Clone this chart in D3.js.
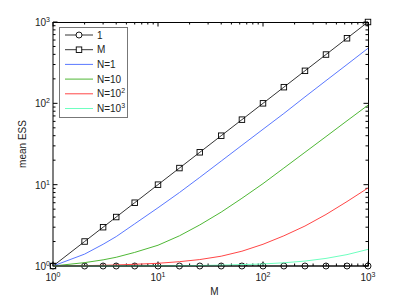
<!DOCTYPE html>
<html>
<head>
<meta charset="utf-8">
<script src="https://cdn.jsdelivr.net/npm/d3@7"></script>
<style>
  body { margin: 0; background: #fff; }
  text { font-family: "Liberation Sans", Arial, sans-serif; fill: #222; }
</style>
</head>
<body>
<div class="chart"></div>
<script>
// data
var mValues = [1, 2, 3, 4, 6, 10, 16, 25, 40, 63, 100, 158, 251, 398, 631, 1000];
var essN1 = [1, 1.4, 1.85, 2.3, 3.3, 5.2, 8, 12.3, 19.5, 30.5, 48, 75, 120, 190, 300, 475];
var essN10 = [1, 1.1, 1.19, 1.28, 1.47, 1.8, 2.35, 3.2, 4.6, 6.8, 10.3, 16, 25, 39, 61, 95];
var essN100 = [1, 1.01, 1.02, 1.03, 1.05, 1.08, 1.13, 1.2, 1.32, 1.52, 1.85, 2.35, 3.1, 4.3, 6.2, 9.1];
var essN1000 = [1, 1.001, 1.002, 1.003, 1.005, 1.008, 1.01, 1.015, 1.025, 1.04, 1.06, 1.095, 1.15, 1.24, 1.38, 1.6];
var majorTicks = [1, 10, 100, 1000];
var tickExponents = ["0", "1", "2", "3"];

var series = [
  { name: "1", sup: null, values: mValues.map(() => 1), color: "#000", marker: "circle" },
  { name: "M", sup: null, values: mValues, color: "#000", marker: "square" },
  { name: "N=1", sup: null, values: essN1, color: "#5a78ff", marker: null },
  { name: "N=10", sup: null, values: essN10, color: "#4fb836", marker: null },
  { name: "N=10", sup: "2", values: essN100, color: "#ff4646", marker: null },
  { name: "N=10", sup: "3", values: essN1000, color: "#6effc0", marker: null }
];

// Set Up Margins
var svgWidth = 407;
var svgHeight = 299;
var margin = { top: 22, right: 39, bottom: 33, left: 53 };
var width = svgWidth - margin.left - margin.right;
var height = svgHeight - margin.top - margin.bottom;

var svg = d3.select(".chart")
  .append("svg")
  .attr("width", svgWidth)
  .attr("height", svgHeight);

var chartGroup = svg.append("g")
  .attr("transform", `translate(${margin.left}, ${margin.top})`);

var xScale = d3.scaleLog().domain([1, 1000]).range([0, width]);
var yScale = d3.scaleLog().domain([1, 1000]).range([height, 0]);

// minor ticks 2..9 in each decade
var minorTicks = [];
[1, 10, 100].forEach(function(d) {
  for (var k = 2; k <= 9; k++) minorTicks.push(d * k);
});

// inward ticks on all four sides
function tickLines(g, ticks, len, horizontal) {
  ticks.forEach(function(t) {
    if (horizontal) {
      var x = xScale(t);
      g.append("line").attr("x1", x).attr("x2", x).attr("y1", height).attr("y2", height - len);
      g.append("line").attr("x1", x).attr("x2", x).attr("y1", 0).attr("y2", len);
    } else {
      var y = yScale(t);
      g.append("line").attr("y1", y).attr("y2", y).attr("x1", 0).attr("x2", len);
      g.append("line").attr("y1", y).attr("y2", y).attr("x1", width).attr("x2", width - len);
    }
  });
}
var tickGroup = chartGroup.append("g").attr("stroke", "#000").attr("stroke-width", 1);
tickLines(tickGroup, majorTicks, 4.5, true);
tickLines(tickGroup, majorTicks, 4.5, false);
tickLines(tickGroup, minorTicks, 2.5, true);
tickLines(tickGroup, minorTicks, 2.5, false);

// lines
var line = d3.line()
  .x((d, i) => xScale(mValues[i]))
  .y(d => yScale(d));

series.forEach(function(s) {
  chartGroup.append("path")
    .datum(s.values)
    .attr("d", line)
    .attr("fill", "none")
    .attr("stroke", s.color)
    .attr("stroke-width", s.marker ? 0.8 : 1);

  if (s.marker === "circle") {
    chartGroup.selectAll(null)
      .data(s.values)
      .enter()
      .append("circle")
      .attr("cx", (d, i) => xScale(mValues[i]))
      .attr("cy", d => yScale(d))
      .attr("r", 3)
      .attr("fill", "none")
      .attr("stroke", "#000")
      .attr("stroke-width", 0.9);
  }
  if (s.marker === "square") {
    chartGroup.selectAll(null)
      .data(s.values)
      .enter()
      .append("rect")
      .attr("x", (d, i) => xScale(mValues[i]) - 2.75)
      .attr("y", d => yScale(d) - 2.75)
      .attr("width", 5.5)
      .attr("height", 5.5)
      .attr("fill", "none")
      .attr("stroke", "#000")
      .attr("stroke-width", 0.9);
  }
});

// frame
chartGroup.append("rect")
  .attr("x", 0)
  .attr("y", 0.5)
  .attr("width", width + 0.5)
  .attr("height", height - 0.5)
  .attr("fill", "none")
  .attr("stroke", "#000")
  .attr("stroke-width", 1);

// tick labels with superscripts
majorTicks.forEach(function(t, i) {
  var xl = chartGroup.append("text")
    .attr("x", xScale(t))
    .attr("y", height + 15)
    .attr("text-anchor", "middle")
    .attr("font-size", "10px");
  xl.append("tspan").text("10");
  xl.append("tspan").attr("dy", -4).attr("font-size", "7px").text(tickExponents[i]);

  var yl = chartGroup.append("text")
    .attr("x", -3)
    .attr("y", yScale(t) + 4)
    .attr("text-anchor", "end")
    .attr("font-size", "10px");
  yl.append("tspan").text("10");
  yl.append("tspan").attr("dy", -4).attr("font-size", "7px").text(tickExponents[i]);
});

// axis titles
chartGroup.append("text")
  .attr("x", width / 2 + 4)
  .attr("y", height + 29)
  .attr("text-anchor", "middle")
  .attr("font-size", "10px")
  .text("M");

chartGroup.append("text")
  .attr("transform", "rotate(-90)")
  .attr("x", -height / 2)
  .attr("y", -27)
  .attr("text-anchor", "middle")
  .attr("font-size", "10px")
  .text("mean ESS");

// legend
var legend = chartGroup.append("g")
  .attr("transform", "translate(6, 5)");

legend.append("rect")
  .attr("x", 0.5)
  .attr("y", 0.5)
  .attr("width", 68)
  .attr("height", 90)
  .attr("fill", "#fff")
  .attr("stroke", "#777")
  .attr("stroke-width", 1);

series.forEach(function(s, i) {
  var y = 8 + i * 14.7;
  legend.append("line")
    .attr("x1", 6).attr("x2", 34)
    .attr("y1", y).attr("y2", y)
    .attr("stroke", s.color)
    .attr("stroke-width", s.marker ? 0.8 : 1);
  if (s.marker === "circle") {
    legend.append("circle").attr("cx", 20).attr("cy", y).attr("r", 3)
      .attr("fill", "#fff").attr("stroke", "#000").attr("stroke-width", 0.9);
  }
  if (s.marker === "square") {
    legend.append("rect").attr("x", 17.25).attr("y", y - 2.75).attr("width", 5.5).attr("height", 5.5)
      .attr("fill", "#fff").attr("stroke", "#000").attr("stroke-width", 0.9);
  }
  var label = legend.append("text")
    .attr("x", 38)
    .attr("y", y + 3.5)
    .attr("font-size", "10px");
  label.append("tspan").text(s.name);
  if (s.sup) {
    label.append("tspan").attr("dy", -4).attr("font-size", "7px").text(s.sup);
  }
});
</script>
</body>
</html>
